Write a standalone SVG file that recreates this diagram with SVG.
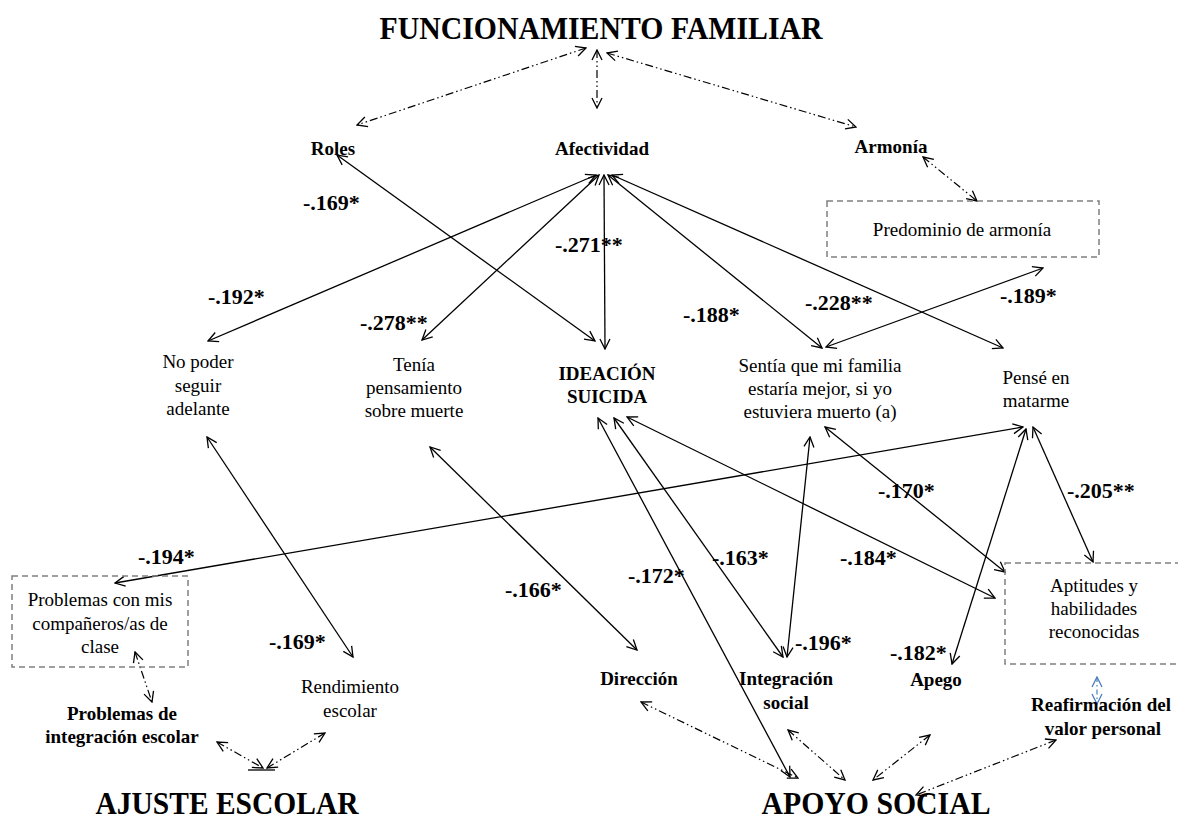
<svg xmlns="http://www.w3.org/2000/svg" width="1178" height="823" viewBox="0 0 1178 823" font-family="'Liberation Serif', 'Times New Roman', serif">
<style>
text{font-family:"Liberation Serif","Times New Roman",serif;fill:#000}
.t{font-weight:bold;font-size:31px;text-anchor:middle}
.b{font-weight:bold;font-size:19px;text-anchor:middle}
.r{font-size:19px;text-anchor:middle}
.l{font-weight:bold;font-size:22px}
.s{stroke:#000;stroke-width:1.3;fill:none;marker-start:url(#a);marker-end:url(#a)}
.d{stroke:#000;stroke-width:1.2;fill:none;stroke-dasharray:8 3 1.5 3 1.5 3;marker-start:url(#a);marker-end:url(#a)}
.bx{fill:none;stroke:#808080;stroke-width:1.5;stroke-dasharray:6 4}
</style>
<defs>
<marker id="a" viewBox="0 0 12 12" refX="11" refY="6" markerWidth="12" markerHeight="12" markerUnits="userSpaceOnUse" orient="auto-start-reverse">
<path d="M1,1 L11,6 L1,11" fill="none" stroke="#000" stroke-width="1.3"/>
</marker>
<marker id="ab" viewBox="0 0 12 12" refX="11" refY="6" markerWidth="12" markerHeight="12" markerUnits="userSpaceOnUse" orient="auto-start-reverse">
<path d="M1,1 L11,6 L1,11" fill="none" stroke="#4a7ebb" stroke-width="1.3"/>
</marker>
</defs>
<rect width="1178" height="823" fill="#fff"/>

<g id="connectors">
<line class="d" x1="586" y1="48" x2="357" y2="125"/>
<line class="d" x1="597" y1="50" x2="597" y2="108"/>
<line class="d" x1="607" y1="53" x2="856" y2="127"/>
<line class="d" x1="923" y1="157" x2="977" y2="201"/>
<line class="s" x1="337" y1="155" x2="595" y2="341"/>
<line class="s" x1="596" y1="175" x2="208" y2="341"/>
<line class="s" x1="599" y1="175" x2="422" y2="340"/>
<line class="s" x1="604" y1="175" x2="605" y2="349"/>
<line class="s" x1="608" y1="175" x2="822" y2="348"/>
<line class="s" x1="612" y1="175" x2="1003" y2="348"/>
<line class="s" x1="826" y1="347" x2="1043" y2="268"/>
<line class="s" x1="207" y1="437" x2="353" y2="657"/>
<line class="s" x1="430" y1="447" x2="637" y2="650"/>
<line class="s" x1="1023" y1="427" x2="115" y2="583"/>
<line class="s" x1="1026" y1="429" x2="952" y2="664"/>
<line class="s" x1="1033" y1="427" x2="1093" y2="562"/>
<line class="s" x1="825" y1="427" x2="1005" y2="572"/>
<line class="s" x1="810" y1="437" x2="787" y2="657"/>
<line class="s" x1="598" y1="418" x2="790" y2="777"/>
<line class="s" x1="614" y1="418" x2="783" y2="657"/>
<line class="s" x1="627" y1="417" x2="995" y2="598"/>
<line class="d" x1="135" y1="652" x2="152" y2="702"/>
<line class="d" x1="217" y1="742" x2="263" y2="768"/>
<line class="d" x1="325" y1="733" x2="267" y2="768"/>
<line x1="248" y1="770" x2="275" y2="770" stroke="#000" stroke-width="1.3"/>
<line class="d" x1="641" y1="702" x2="798" y2="778"/>
<line class="d" x1="788" y1="730" x2="845" y2="780"/>
<line class="d" x1="930" y1="735" x2="873" y2="780"/>
<line class="d" x1="1056" y1="740" x2="916" y2="795"/>
<line x1="1097" y1="677" x2="1097" y2="704" stroke="#4a7ebb" stroke-width="1.2" stroke-dasharray="5 3 1.5 3" marker-start="url(#ab)" marker-end="url(#ab)"/>
</g>

<g id="labels">
<text class="l" x="303" y="210">-.169*</text>
<text class="l" x="555" y="252">-.271**</text>
<text class="l" x="208" y="304">-.192*</text>
<text class="l" x="360" y="330">-.278**</text>
<text class="l" x="683" y="322">-.188*</text>
<text class="l" x="805" y="310">-.228**</text>
<text class="l" x="1000" y="303">-.189*</text>
<text class="l" x="878" y="498">-.170*</text>
<text class="l" x="1067" y="498">-.205**</text>
<text class="l" x="138" y="564">-.194*</text>
<text class="l" x="840" y="565">-.184*</text>
<text class="l" x="712" y="565">-.163*</text>
<text class="l" x="628" y="583">-.172*</text>
<text class="l" x="505" y="597">-.166*</text>
<text class="l" x="269" y="649">-.169*</text>
<text class="l" x="795" y="650">-.196*</text>
<text class="l" x="890" y="660">-.182*</text>
</g>

<g id="n-funcionamiento"><text class="t" x="601" y="39" textLength="443" lengthAdjust="spacingAndGlyphs">FUNCIONAMIENTO FAMILIAR</text></g>
<g id="n-roles"><text class="b" x="333" y="155">Roles</text></g>
<g id="n-afectividad"><text class="b" x="602" y="155">Afectividad</text></g>
<g id="n-armonia"><text class="b" x="891" y="153">Armonía</text></g>
<g id="n-predominio"><rect class="bx" x="827" y="201" width="272" height="56"/><text class="r" x="962" y="236">Predominio de armonía</text></g>
<g id="n-nopoder"><text class="r" x="198" y="368">No poder</text><text class="r" x="198" y="392">seguir</text><text class="r" x="198" y="415">adelante</text></g>
<g id="n-tenia"><text class="r" x="414" y="371">Tenía</text><text class="r" x="414" y="394">pensamiento</text><text class="r" x="414" y="417">sobre muerte</text></g>
<g id="n-ideacion"><text class="b" x="607" y="380">IDEACIÓN</text><text class="b" x="607" y="403">SUICIDA</text></g>
<g id="n-sentia"><text class="r" x="820" y="372">Sentía que mi familia</text><text class="r" x="820" y="395">estaría mejor, si yo</text><text class="r" x="820" y="418">estuviera muerto (a)</text></g>
<g id="n-pense"><text class="r" x="1036" y="384">Pensé en</text><text class="r" x="1036" y="407">matarme</text></g>
<g id="n-problemas-comp"><rect class="bx" x="12" y="576" width="176" height="91"/><text class="r" x="100" y="606">Problemas con mis</text><text class="r" x="100" y="630">compañeros/as de</text><text class="r" x="100" y="653">clase</text></g>
<g id="n-aptitudes"><rect class="bx" x="1005" y="563" width="180" height="101"/><text class="r" x="1094" y="592">Aptitudes y</text><text class="r" x="1094" y="615">habilidades</text><text class="r" x="1094" y="638">reconocidas</text></g>
<g id="n-rendimiento"><text class="r" x="350" y="693">Rendimiento</text><text class="r" x="350" y="717">escolar</text></g>
<g id="n-problemas-int"><text class="b" x="122" y="720">Problemas de</text><text class="b" x="122" y="743">integración escolar</text></g>
<g id="n-direccion"><text class="b" x="639" y="685">Dirección</text></g>
<g id="n-integracion"><text class="b" x="786" y="685">Integración</text><text class="b" x="786" y="709">social</text></g>
<g id="n-apego"><text class="b" x="936" y="686">Apego</text></g>
<g id="n-reafirmacion"><text class="b" x="1101" y="711">Reafirmación del</text><text class="b" x="1103" y="735">valor personal</text></g>
<g id="n-ajuste"><text class="t" x="227" y="814" textLength="263" lengthAdjust="spacingAndGlyphs">AJUSTE ESCOLAR</text></g>
<g id="n-apoyo"><text class="t" x="876" y="814" textLength="229" lengthAdjust="spacingAndGlyphs">APOYO SOCIAL</text></g>
</svg>
